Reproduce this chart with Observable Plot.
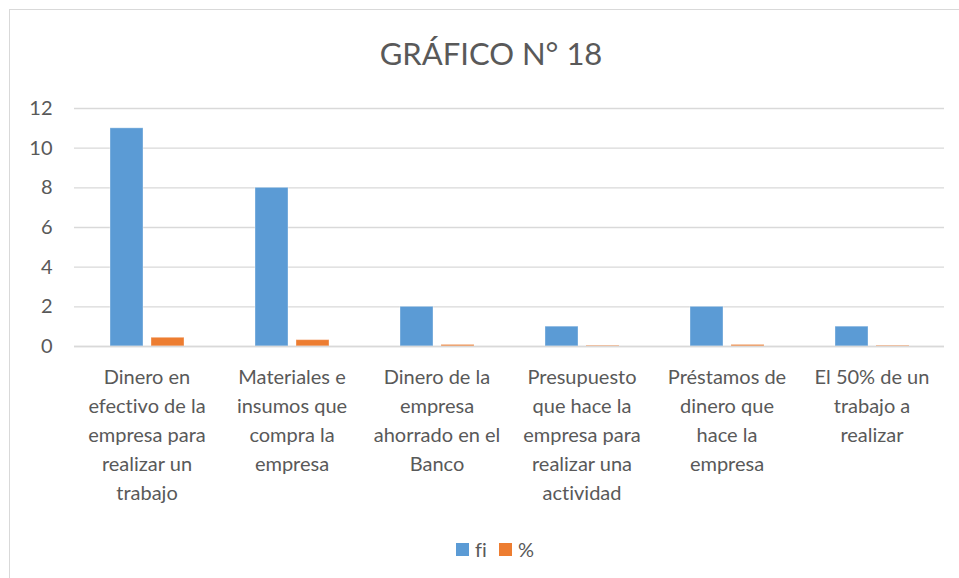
<!DOCTYPE html>
<html>
<head>
<meta charset="utf-8">
<script src="https://cdn.jsdelivr.net/npm/d3@7"></script>
<script src="https://cdn.jsdelivr.net/npm/@observablehq/plot@0.6"></script>
<style>
  html, body { margin: 0; padding: 0; background: #fff; }
  body { width: 959px; height: 578px; overflow: hidden; position: relative; font-family: Lato, "Open Sans", sans-serif; color: #595959; font-variant-ligatures: none; }
  #frame { position: absolute; left: 9px; top: 9px; width: 1000px; height: 600px; border-left: 1px solid #d9d9d9; border-top: 1px solid #d9d9d9; box-sizing: border-box; }
  #title { position: absolute; left: 0; top: 0; width: 982px; height: 90px; text-align: center; font-size: 31px; line-height: 106px; color: #595959; }
  #chart { position: absolute; left: 0; top: 90px; }
  #chart svg { font-variant-ligatures: none; }
  #legend { position: absolute; left: 0; top: 520px; width: 990px; height: 58px; display: flex; justify-content: center; align-items: center; font-size: 20px; gap: 12px; }
  .item { display: flex; align-items: center; gap: 6px; }
  .sw { width: 13px; height: 13px; display: inline-block; }
</style>
</head>
<body>
<div id="frame"></div>
<div id="title">GRÁFICO N° 18</div>
<div id="chart"></div>
<div id="legend"></div>
<script>
const categories = [
  "Dinero en efectivo de la empresa para realizar un trabajo",
  "Materiales e insumos que compra la empresa",
  "Dinero de la empresa ahorrado en el Banco",
  "Presupuesto que hace la empresa para realizar una actividad",
  "Préstamos de dinero que hace la empresa",
  "El 50% de un trabajo a realizar"
];
const tickLabels = [
  "Dinero en\nefectivo de la\nempresa para\nrealizar un\ntrabajo",
  "Materiales e\ninsumos que\ncompra la\nempresa",
  "Dinero de la\nempresa\nahorrado en el\nBanco",
  "Presupuesto\nque hace la\nempresa para\nrealizar una\nactividad",
  "Préstamos de\ndinero que\nhace la\nempresa",
  "El 50% de un\ntrabajo a\nrealizar"
];
const series = ["fi", "%"];
const fiValues = [11, 8, 2, 1, 2, 1];
const pctValues = [0.44, 0.32, 0.08, 0.04, 0.08, 0.04];
const colors = ["#5B9BD5", "#ED7D31"];
const yTicks = [0, 2, 4, 6, 8, 10, 12];

const data = [];
categories.forEach((c, i) => {
  data.push({cat: c, serie: series[0], value: fiValues[i]});
  data.push({cat: c, serie: series[1], value: pctValues[i]});
});
const labelOf = new Map(categories.map((c, i) => [c, tickLabels[i]]));

const chart = Plot.plot({
  width: 959,
  height: 430,
  marginLeft: 73,
  marginRight: 14,
  marginTop: 18,
  marginBottom: 174,
  style: {fontFamily: "Lato, 'Open Sans', sans-serif", fontSize: "20px", color: "#595959", background: "transparent"},
  fx: {domain: categories, padding: 0, label: null},
  x: {domain: series, paddingInner: 0.2, paddingOuter: 0.85, axis: null},
  y: {domain: [0, 12], label: null},
  color: {domain: series, range: colors},
  marks: [
    Plot.gridY(yTicks, {stroke: "#d9d9d9", strokeOpacity: 1, strokeWidth: 1.3}),
    Plot.axisY(yTicks, {tickSize: 0, tickPadding: 22, fontSize: 20, fill: "#595959", label: null}),
    Plot.axisFx({anchor: "bottom", tickSize: 0, tickPadding: 17, fontSize: 20, lineHeight: 1.45, fill: "#595959", label: null, tickFormat: d => labelOf.get(d), textOverflow: null}),
    Plot.barY(data, {fx: "cat", x: "serie", y: "value", fill: "serie", stroke: "#ffffff", strokeOpacity: 0.35, strokeWidth: 1}),
    Plot.ruleY([0], {stroke: "#d9d9d9", strokeWidth: 1.3})
  ]
});
document.getElementById("chart").appendChild(chart);

const legend = document.getElementById("legend");
series.forEach((s, i) => {
  const item = document.createElement("span");
  item.className = "item";
  const sw = document.createElement("span");
  sw.className = "sw";
  sw.style.background = colors[i];
  item.appendChild(sw);
  item.appendChild(document.createTextNode(s));
  legend.appendChild(item);
});
</script>
</body>
</html>
